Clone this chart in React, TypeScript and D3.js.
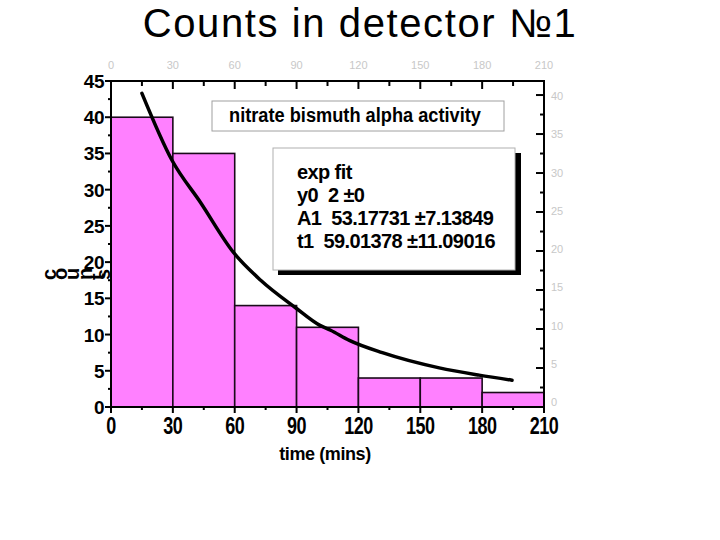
import React from "react";
import * as d3 from "d3";

const binStarts = [0, 30, 60, 90, 120, 150, 180];
const binWidth = 30;
const counts = [40, 35, 14, 11, 4, 4, 2];

const fitTime = [15, 29.5, 43.5, 59.5, 72.6, 89.5, 101.1, 106.5, 115.6, 131.6, 159.2, 178.5, 194.5];
const fitValue = [43.3, 34.1, 28.2, 21.3, 17.5, 13.7, 11.3, 10.6, 9.2, 7.5, 5.4, 4.4, 3.7];

const xTicks = [0, 30, 60, 90, 120, 150, 180, 210];
const xMinor = [15, 45, 75, 105, 135, 165, 195];
const yTicks = [0, 5, 10, 15, 20, 25, 30, 35, 40, 45];
const yMinor = [2.5, 7.5, 12.5, 17.5, 22.5, 27.5, 32.5, 37.5, 42.5];
const rTicks = [0, 5, 10, 15, 20, 25, 30, 35, 40];
const rMinor = [2.5, 7.5, 12.5, 17.5, 22.5, 27.5, 32.5, 37.5];

const title = "Counts in detector №1";
const legendTitle = "nitrate bismuth alpha activity";
const fitLines = ["exp fit", "y0  2 ±0", "A1  53.17731 ±7.13849", "t1  59.01378 ±11.09016"];

export default function App() {
  const W = 720, H = 540;
  const x = d3.scaleLinear().domain([0, 210]).range([111, 544]);
  const y = d3.scaleLinear().domain([0, 45]).range([407, 81]);
  const yR = d3.scaleLinear().domain([0, 41.8]).range([407, 81]);
  const yRLabel = d3.scaleLinear().domain([0, 40]).range([402, 96]);
  const line = d3
    .line<number>()
    .x((_, i) => x(fitTime[i]))
    .y((d) => y(d))
    .curve(d3.curveMonotoneX);
  const font = "'Liberation Sans', Arial, sans-serif";
  const grey = "#c8c8c8";

  return (
    <svg
      width={W}
      height={H}
      style={{ position: "absolute", left: 0, top: 0, background: "#fff" }}
      fontFamily={font}
    >
      <rect width={W} height={H} fill="#fff" />
      <text x={360} y={37} textAnchor="middle" fontSize={40} letterSpacing={1.6}>
        {title}
      </text>

      {/* bars */}
      {binStarts.map((s, i) => (
        <rect
          key={i}
          x={x(s)}
          y={y(counts[i])}
          width={x(s + binWidth) - x(s)}
          height={y(0) - y(counts[i])}
          fill="#ff80ff"
          stroke="#1a0a1a"
          strokeWidth={1.6}
        />
      ))}

      {/* legend box 1 */}
      <rect x={212} y={101} width={292} height={30} fill="#fff" stroke="#a0a0a0" strokeWidth={1} />
      <text x={229} y={122} fontSize={19.5} fontWeight="bold" textLength={252} lengthAdjust="spacingAndGlyphs">
        {legendTitle}
      </text>

      {/* fit box */}
      <rect x={278} y={153} width={243} height={122} fill="#000" />
      <rect x={273} y={148} width={242} height={122} fill="#fff" stroke="#b0b0b0" strokeWidth={1} />
      {fitLines.map((t, i) => (
        <text
          key={i}
          x={297}
          y={179 + i * 23}
          fontSize={20}
          fontWeight="bold"
          letterSpacing={-0.6}
          style={{ whiteSpace: "pre" }}
        >
          {t}
        </text>
      ))}

      {/* fit curve */}
      <path d={line(fitValue) || ""} fill="none" stroke="#000" strokeWidth={3.5} strokeLinecap="round" />

      {/* axes frame */}
      <line x1={x(0)} x2={x(210)} y1={y(0)} y2={y(0)} stroke="#000" strokeWidth={2} />
      <line x1={x(0)} x2={x(210)} y1={y(45)} y2={y(45)} stroke="#000" strokeWidth={2} />
      <line x1={x(0)} x2={x(0)} y1={y(0) + 1} y2={y(45) - 1} stroke="#000" strokeWidth={2} />
      <line x1={x(210)} x2={x(210)} y1={y(0) + 1} y2={y(45) - 1} stroke="#000" strokeWidth={2} />

      {/* bottom axis */}
      {xTicks.map((t) => (
        <g key={"b" + t}>
          <line x1={x(t)} x2={x(t)} y1={y(0)} y2={y(0) + 6} stroke="#000" strokeWidth={2} />
          <text
            transform={`translate(${x(t)},434) scale(1,1.35)`}
            textAnchor="middle"
            fontSize={18}
            fontWeight="bold"
            letterSpacing={-0.5}
          >
            {t}
          </text>
          <line x1={x(t)} x2={x(t)} y1={y(45)} y2={y(45) + 8} stroke="#000" strokeWidth={2} />
          <text x={x(t)} y={69} textAnchor="middle" fontSize={11} fill={grey}>
            {t}
          </text>
        </g>
      ))}
      {xMinor.map((t) => (
        <g key={"bm" + t}>
          <line x1={x(t)} x2={x(t)} y1={y(0)} y2={y(0) + 3} stroke="#000" strokeWidth={2} />
          <line x1={x(t)} x2={x(t)} y1={y(45)} y2={y(45) + 5} stroke="#000" strokeWidth={2} />
        </g>
      ))}
      <text x={325} y={460} textAnchor="middle" fontSize={18} fontWeight="bold" letterSpacing={-0.4}>
        time (mins)
      </text>

      {/* left axis */}
      {yTicks.map((t) => (
        <g key={"l" + t}>
          <line x1={x(0) - 6} x2={x(0)} y1={y(t)} y2={y(t)} stroke="#000" strokeWidth={2} />
          <text x={104} y={y(t) + 7} textAnchor="end" fontSize={19} fontWeight="bold" letterSpacing={-0.5}>
            {t}
          </text>
        </g>
      ))}
      {yMinor.map((t) => (
        <line key={"lm" + t} x1={x(0) - 3} x2={x(0)} y1={y(t)} y2={y(t)} stroke="#000" strokeWidth={2} />
      ))}
      <text x={56} y={280} fontSize={20} fontWeight="bold" rotate="-90">
        counts
      </text>

      {/* right axis */}
      {rTicks.map((t) => (
        <g key={"r" + t}>
          <line x1={x(210) - 8} x2={x(210)} y1={yR(t)} y2={yR(t)} stroke="#000" strokeWidth={2} />
          <text x={551} y={yRLabel(t) + 4} fontSize={11} fill={grey}>
            {t}
          </text>
        </g>
      ))}
      {rMinor.map((t) => (
        <line key={"rm" + t} x1={x(210) - 4} x2={x(210)} y1={yR(t)} y2={yR(t)} stroke="#000" strokeWidth={2} />
      ))}
    </svg>
  );
}
